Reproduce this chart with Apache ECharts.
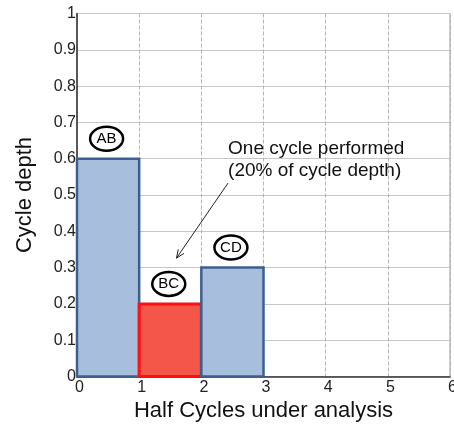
<!DOCTYPE html>
<html>
<head>
<meta charset="utf-8">
<script src="https://cdn.jsdelivr.net/npm/echarts@6/dist/echarts.min.js"></script>
<style>html,body{margin:0;padding:0;background:#fff;}#c{width:454px;height:425px;}</style>
</head>
<body>
<div id="c"></div>
<script>
// Data
var barStarts = [0, 1, 2];
var barEnds = [1, 2, 3];
var depths = [0.6, 0.2, 0.3];
var barLabels = ['AB', 'BC', 'CD'];
var highlighted = [false, true, false];
var yTicks = [0, 0.1, 0.2, 0.3, 0.4, 0.5, 0.6, 0.7, 0.8, 0.9, 1];
var xTicks = [0, 1, 2, 3, 4, 5, 6];
var annotationLines = ['One cycle performed', '(20% of cycle depth)'];
var annotationTextAt = [2.43, 0.627];
var arrowFrom = [2.43, 0.533];
var arrowTo = [1.6, 0.326];

var FONT = 'Arial, "Liberation Sans", sans-serif';
var chart = echarts.init(document.getElementById('c'), null, {renderer: 'canvas'});

var data = barStarts.map(function (s, i) { return [s, barEnds[i], depths[i], i]; });

var option = {
  animation: false,
  grid: {left: 77, right: 4, top: 13.5, bottom: 48.5, show: true, borderColor: '#9a9a9a', borderWidth: 1,
    outerBoundsMode: 'none', containLabel: false},
  xAxis: {
    type: 'value', min: 0, max: 6, interval: 1,
    name: 'Half Cycles under analysis', nameLocation: 'middle', nameGap: 22,
    nameTextStyle: {fontFamily: FONT, fontSize: 22, color: '#111', verticalAlign: 'top'},
    axisLine: {show: true, lineStyle: {color: '#333', width: 1.5}},
    axisTick: {show: false},
    axisLabel: {fontFamily: FONT, fontSize: 16, color: '#222', margin: 3, padding: [0, 0, 0, 5],
      formatter: function (v) { return xTicks.indexOf(v) >= 0 ? String(v) : ''; }},
    splitLine: {show: true, lineStyle: {color: '#b5b5b5', type: [4, 2], width: 1}}
  },
  yAxis: {
    type: 'value', min: 0, max: 1, interval: 0.1,
    name: 'Cycle depth', nameLocation: 'middle', nameGap: 41, nameRotate: 90,
    nameTextStyle: {fontFamily: FONT, fontSize: 22, color: '#111'},
    axisLine: {show: true, lineStyle: {color: '#333', width: 1.5}},
    axisTick: {show: false},
    axisLabel: {fontFamily: FONT, fontSize: 16, color: '#222', margin: 1, padding: [6, 0, 0, 0],
      formatter: function (v) {
        var r = Math.round(v * 10) / 10;
        return yTicks.indexOf(r) >= 0 ? String(r) : '';
      }},
    splitLine: {show: true, lineStyle: {color: '#c6c6c6', width: 1}}
  },
  series: [{
    type: 'custom',
    data: data,
    encode: {x: [0, 1], y: 2},
    renderItem: function (params, api) {
      var p0 = api.coord([api.value(0), 0]);
      var p1 = api.coord([api.value(1), api.value(2)]);
      var idx = api.value(3);
      var hi = highlighted[idx];
      var cx = (p0[0] + p1[0]) / 2;
      return {
        type: 'group',
        children: [{
          type: 'rect',
          shape: {x: p0[0], y: p1[1], width: p1[0] - p0[0], height: p0[1] - p1[1]},
          style: {fill: hi ? '#f5564a' : '#a7bfdd', stroke: hi ? '#ff1010' : '#3d5f8f', lineWidth: hi ? 3 : 2.5}
        }, {
          type: 'ellipse',
          shape: {cx: cx - 1.5, cy: p1[1] - 20, rx: 16.5, ry: 12},
          style: {fill: '#fff', stroke: '#000', lineWidth: 2.5}
        }, {
          type: 'text',
          style: {x: cx - 1.5, y: p1[1] - 20, text: barLabels[idx], fontFamily: FONT, fontSize: 15,
            fill: '#000', align: 'center', verticalAlign: 'middle'}
        }]
      };
    }
  }]
};
chart.setOption(option);

var tp = chart.convertToPixel({gridIndex: 0}, annotationTextAt);
var a0 = chart.convertToPixel({gridIndex: 0}, arrowFrom);
var a1 = chart.convertToPixel({gridIndex: 0}, arrowTo);
var ang = Math.atan2(a1[1] - a0[1], a1[0] - a0[0]);
var hl = 9, hw = 0.4;
chart.setOption({
  graphic: [{
    type: 'text', x: tp[0], y: tp[1] + 11,
    style: {text: annotationLines.join('\n'), fontFamily: FONT, fontSize: 19, lineHeight: 22,
      fill: '#111', align: 'left', verticalAlign: 'middle'},
    z: 10
  }, {
    type: 'line', shape: {x1: a0[0], y1: a0[1], x2: a1[0], y2: a1[1]},
    style: {stroke: '#222', lineWidth: 1}, z: 10
  }, {
    type: 'polyline',
    shape: {points: [
      [a1[0] - hl * Math.cos(ang - hw), a1[1] - hl * Math.sin(ang - hw)],
      [a1[0], a1[1]],
      [a1[0] - hl * Math.cos(ang + hw), a1[1] - hl * Math.sin(ang + hw)]
    ]},
    style: {stroke: '#222', lineWidth: 1, fill: null}, z: 10
  }]
});
</script>
</body>
</html>
